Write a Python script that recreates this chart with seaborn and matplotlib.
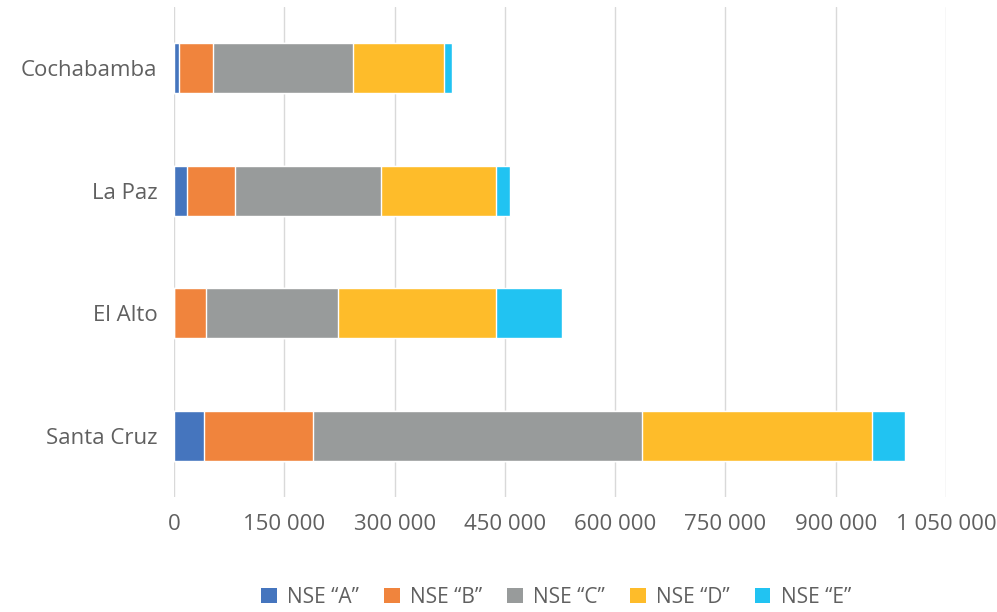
import numpy as np
import pandas as pd
import matplotlib
import matplotlib.pyplot as plt
from matplotlib.patches import Patch
from matplotlib.ticker import FuncFormatter
import seaborn as sns

# data
cities = ["Cochabamba", "La Paz", "El Alto", "Santa Cruz"]
segments = ["NSE \u201cA\u201d", "NSE \u201cB\u201d", "NSE \u201cC\u201d", "NSE \u201cD\u201d", "NSE \u201cE\u201d"]
nse_a = [6800, 17600, 0, 40700]
nse_b = [46000, 65000, 43400, 149000]
nse_c = [191000, 199000, 180000, 447000]
nse_d = [123000, 157000, 215000, 313000]
nse_e = [10800, 19000, 89400, 44700]
colors = ["#4575BE", "#F0843D", "#989B9B", "#FEBC2A", "#21C3F2"]
xticks = [0, 150000, 300000, 450000, 600000, 750000, 900000, 1050000]

sns.set_style("white")
plt.rcParams["font.family"] = ["Open Sans", "DejaVu Sans"]
text_col = "#606060"

df = pd.DataFrame({"city": cities}).set_index("city")
for name, vals in zip(segments, [nse_a, nse_b, nse_c, nse_d, nse_e]):
    df[name] = vals
cum = df.cumsum(axis=1).reset_index()

fig = plt.figure(figsize=(9.97, 6.12), dpi=100)
ax = fig.add_axes([174 / 997, 1 - 497 / 612, (946 - 174) / 997, 490 / 612])

# draw cumulative totals back to front so they look stacked
for name, col in reversed(list(zip(segments, colors))):
    sns.barplot(data=cum, y="city", x=name, order=cities, color=col,
                orient="h", width=0.41, saturation=1, ax=ax, zorder=3)

ax.set_xlim(0, 1050000)
ax.set_xticks(xticks)
ax.xaxis.set_major_formatter(FuncFormatter(lambda v, p: f"{int(v):,}".replace(",", " ")))
ax.grid(axis="x", color="#D9D9D9", linewidth=1, zorder=0)
ax.set_axisbelow(True)
for s in ax.spines.values():
    s.set_visible(False)
ax.set_xlabel("")
ax.set_ylabel("")
ax.tick_params(axis="both", length=0, labelsize=16, colors=text_col)
ax.tick_params(axis="y", pad=12)
ax.tick_params(axis="x", pad=12)

handles = [Patch(facecolor=c, edgecolor="none", label=s) for s, c in zip(segments, colors)]
fig.legend(handles=handles, loc="center", bbox_to_anchor=(556 / 997, 0.024), ncol=5,
           frameon=False, fontsize=15, handlelength=0.75, handleheight=0.75,
           handletextpad=0.5, columnspacing=1.2, labelcolor=text_col)

fig.savefig("out.png", dpi=100)
